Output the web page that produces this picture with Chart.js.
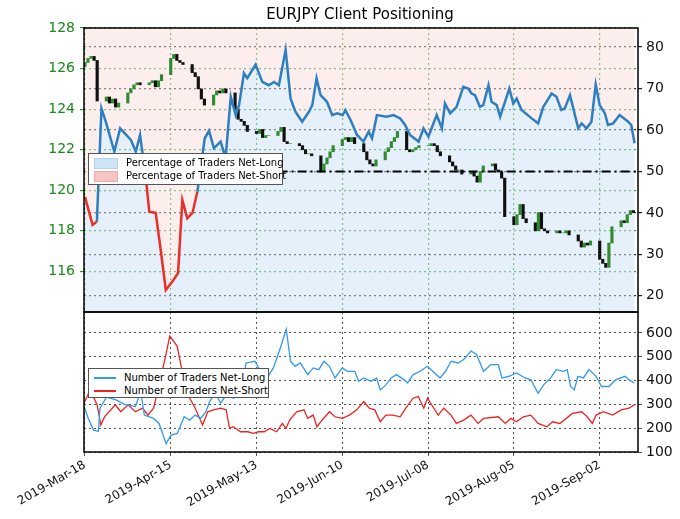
<!DOCTYPE html>
<html><head><meta charset="utf-8">
<script src="https://cdn.jsdelivr.net/npm/chart.js@4"></script>
<style>
body{margin:0;background:#fff;font-family:"DejaVu Sans",sans-serif}
#wrap{position:relative;width:680px;height:519px}
canvas{position:absolute;left:0;top:0}
.title{position:absolute;width:680px;top:5px;text-align:center;font-size:15px;color:#000;left:20px}
.leg{position:absolute;background:#fff;border:1px solid #555;font-size:10px;color:#000;padding:2px 5px;box-sizing:border-box}
.leg div{height:13px;line-height:13px;white-space:nowrap}
.leg span{display:inline-block;vertical-align:middle;margin-right:8px}
</style></head><body>
<div id="wrap">
<canvas id="c1" width="680" height="519"></canvas>
<canvas id="c2" width="680" height="519"></canvas>
<div class="title">EURJPY Client Positioning</div>
<div class="leg" style="left:88px;top:153px;width:195px;height:32px">
<div><span style="width:22px;height:9px;background:#cfe3f7;border:1px solid #b5d2ef"></span>Percentage of Traders Net-Long</div>
<div><span style="width:22px;height:9px;background:#f7c5c5;border:1px solid #efaaaa"></span>Percentage of Traders Net-Short</div>
</div>
<div class="leg" style="left:88px;top:368px;width:181px;height:30px">
<div><span style="width:22px;height:1.5px;background:#3399ee"></span>Number of Traders Net-Long</div>
<div><span style="width:22px;height:1.5px;background:#ee2222"></span>Number of Traders Net-Short</div>
</div>
</div>
<script>
// day offsets from 2019-03-18
const tickDays=[0,28,56,84,112,140,168];
const tickLabels=['2019-Mar-18','2019-Apr-15','2019-May-13','2019-Jun-10','2019-Jul-08','2019-Aug-05','2019-Sep-02'];
// weekday closes (Mon-Fri, 26 weeks)
const closes=[
126.3,126.5,126.6,126.4,124.4, 124.6,124.3,124.5,124.1,124.3,
124.8,125.0,125.2,125.3,125.2, 125.3,125.4,125.1,125.4,125.7,
126.5,126.7,126.4,126.3,126.2, 125.8,125.6,125.0,124.5,124.2,
124.7,124.9,124.8,125.0,124.8, 124.0,123.5,123.4,123.2,122.9,
122.8,123.0,122.6,122.7,122.7, 122.9,123.1,122.4,122.3,122.3,
122.2,122.0,121.8,121.8,121.7, 120.9,121.3,121.6,121.9,122.2,
122.5,122.6,122.4,122.6,122.3, 121.9,121.5,121.3,121.2,121.5,
121.9,122.1,122.4,122.6,122.9, 122.0,121.9,122.0,122.1,122.2,
122.2,122.3,122.2,121.9,121.7, 121.4,121.2,121.0,121.0,120.8,
120.9,120.7,120.4,120.9,121.2, 121.3,121.0,120.9,120.6,118.7,
118.3,118.8,119.3,118.6,118.4, 118.0,118.9,118.1,118.0,117.9,
118.0,117.9,117.9,118.0,117.8, 117.5,117.2,117.4,117.3,117.5,
116.6,116.4,116.2,117.4,118.2, 118.5,118.4,118.8,119.0,118.9];
const firstOpen=126.1;
const pctDays=[0,2.5,3.9,5.4,6.8,9.6,11.5,15,16.6,18,19.9,21,23.1,24.8,26.4,28.6,30.4,31.8,33.4,35.1,36.7,39.1,40.5,42.1,44.3,45.9,47.6,49.2,50.3,51.9,53,55.7,57.9,60,61.7,63.3,65.5,67.1,68.7,70.9,73.1,74.2,75.6,76.9,79,80.7,82.3,84.1,85,86.7,88.8,90.9,92.6,93.7,95.3,98.5,100.7,102.9,104.5,106.1,108.9,110.5,112.1,114.8,116.5,117.5,119.2,121.3,123.5,125.1,126.2,127.3,128.9,130,131.7,132.7,134.4,135.5,138.5,139.8,140.9,142.5,145.8,147.9,149.6,152.3,153.9,155.5,156.6,158.3,161,162.1,163.7,165.3,166.7,168,169.7,170.7,172.4,174.5,177.3,178.3,179.4];
const pctLong=[43.9,37.1,37.9,65.2,62,54.8,60.4,57.6,54.8,58.8,48.4,40.3,40,30.7,21.4,23.5,25.5,43.1,38.7,40,45.1,58,59.8,55.6,57.2,53.2,68,63.6,66,73.7,72.5,75.8,71.6,70.8,71.6,70.8,79.3,67.6,64.4,62,64.4,66,72.5,68.4,66.8,63.6,64,63.6,64.8,62.4,58.8,57.2,59.6,58,63.6,63.2,63.6,62.8,61.2,58.8,57.2,60.4,58.4,63.6,60.4,66.4,64,65.6,70.4,70,68.8,68.4,65.6,66,70.8,66.8,66,63.2,70,66.4,67.6,64.8,62.8,61.6,65.6,68.8,68,64.8,65.2,68.4,60.4,61.6,60.4,62,71,66,64,61.2,61.6,63.6,62,61.2,56.8];
const longDays=[0,1.1,2.8,4.4,4.9,7,10,12.9,16.5,18.2,19.4,22.4,24.2,26.5,28.1,30.1,32.4,34.2,36,37.8,39.5,40.7,42.5,44.3,46.1,48.4,50.8,52.6,55.5,57.9,59.1,61.5,63.8,65.7,67.1,68.6,70.3,72.7,74.5,76.3,78,79.8,81.6,84,85.7,88.1,89.3,91,93.4,95.2,96.4,98.2,99.9,101.7,104.1,105.3,107.1,109.4,111.8,113.5,115.9,117.7,119.5,121.8,123.6,126,127.8,130.1,132.5,134.9,136.1,138.4,140.8,143.7,145.5,147.9,149.7,152,153.8,156.2,157.4,158.5,159.7,160.9,162.7,164.5,166.8,168.6,171,173.3,176.3,177.5,179.3];
const longCount=[283,241,192,187,283,330,320,300,291,354,255,241,220,135,171,178,248,234,255,241,269,312,347,305,340,326,333,474,481,425,404,453,538,616,481,460,474,425,453,446,481,460,411,453,439,439,397,411,397,411,361,382,411,425,404,390,425,439,460,439,411,439,481,474,488,524,510,439,467,467,411,418,432,411,404,347,382,411,446,439,446,375,361,418,411,446,418,375,375,404,418,404,390];
const shortDays=[0,1.7,4,5.2,6.4,9.9,11.7,14.1,16.5,18.8,20.6,22.4,24.2,26.2,27.7,30.1,31.3,33.6,36,38.4,40.1,41.9,44.3,46.1,47.2,48.4,50.8,53.2,54.9,56.7,58.5,60.3,62.6,64.4,65.6,66.8,69.1,71.5,72.7,74.5,75.7,77.4,79.8,81.6,84,86.3,88.7,91,92.8,94.6,96.4,98.2,100.5,102.9,104.7,107.1,108.8,110.6,111.8,113.5,115.3,117.1,119.5,121.2,123.6,126,128.3,130.1,134.9,137.2,139,140.8,143.1,145.5,147.9,150.8,152.6,155,159.1,162.1,163.9,165.6,166.8,169.2,172.2,175.1,177.5,179.3];
const shortCount=[312,361,298,213,248,298,269,298,269,284,255,284,382,495,587,545,467,340,284,213,269,277,284,277,199,206,185,185,178,185,185,199,185,220,199,234,269,277,241,255,206,234,269,248,241,255,277,312,284,277,227,255,255,248,284,326,333,284,326,291,255,284,255,220,234,255,220,241,248,220,241,227,248,255,220,206,227,220,262,269,248,220,255,269,255,277,284,298];

const X0=-0.3,X1=180.5;
const FONT='"DejaVu Sans", sans-serif';
const pts=(xs,ys)=>xs.map((x,i)=>({x:x,y:ys[i]}));
const candles=[],cColors=[];
closes.forEach((c,i)=>{const o=i?closes[i-1]:firstOpen;const d=Math.floor(i/5)*7+i%5;
 candles.push({x:d,y:[o,c]});cColors.push(c>=o?'#2e8b2e':'#111');});
const frame={id:'frame',afterDraw(ch){const a=ch.chartArea,g=ch.ctx;g.save();g.strokeStyle='#000';g.lineWidth=1.5;g.strokeRect(a.left,a.top,a.right-a.left,a.bottom-a.top);g.restore();}};
const setTicks=v=>s=>{s.ticks=v.map(x=>({value:x}));};

new Chart(document.getElementById('c1'),{
 data:{datasets:[
  {type:'line',data:pts(pctDays,pctLong),yAxisID:'p',fill:'start',backgroundColor:'rgba(205,226,245,0.5)',borderWidth:0,pointRadius:0,order:5},
  {type:'line',data:pts(pctDays,pctLong),yAxisID:'p',fill:'end',backgroundColor:'rgba(252,222,222,0.5)',borderWidth:0,pointRadius:0,order:5},
  {type:'bar',data:candles,yAxisID:'pr',backgroundColor:cColors,barThickness:2.5,order:3},
  {type:'line',data:[{x:-5,y:50},{x:190,y:50}],yAxisID:'p',borderColor:'#000',borderWidth:2,borderDash:[9,4,2,4],pointRadius:0,order:2},
  {type:'line',data:pts(pctDays,pctLong),yAxisID:'p',borderWidth:2.5,pointRadius:0,order:1,borderColor:'#2f7fc0',
   segment:{borderColor:c=>((c.p0.parsed.y+c.p1.parsed.y)/2<50?'#e8302a':'#2f7fc0')}}
 ]},
 options:{responsive:false,animation:false,events:[],
  layout:{padding:{top:28,bottom:207,left:0,right:0}},
  plugins:{legend:{display:false},tooltip:{enabled:false}},
  scales:{
   x:{type:'linear',offset:false,min:X0,max:X1,afterBuildTicks:setTicks(tickDays),afterFit:s=>{s.height=0},
      ticks:{display:false},grid:{offset:false,color:'#2a9a2a',lineWidth:1.2,drawTicks:false},border:{display:false,dash:[2,3]}},
   pr:{position:'left',min:114,max:128,afterBuildTicks:setTicks([116,118,120,122,124,126,128]),afterFit:s=>{s.width=84},
      ticks:{color:'#1a8a1a',font:{family:FONT,size:14},padding:5},grid:{color:'#2a9a2a',lineWidth:1.2,drawTicks:true,tickLength:4},border:{display:false,dash:[2,3]}},
   p:{position:'right',min:16.1,max:84.6,afterBuildTicks:setTicks([20,30,40,50,60,70,80]),afterFit:s=>{s.width=42},
      ticks:{color:'#111',font:{family:FONT,size:14},padding:4},grid:{color:'#222',lineWidth:1.2,tickLength:4},border:{display:false,dash:[2,3]}}
  }},
 plugins:[frame]
});

new Chart(document.getElementById('c2'),{
 type:'line',
 data:{datasets:[
  {data:pts(longDays,longCount),borderColor:'#3399ee',borderWidth:1.3,pointRadius:0},
  {data:pts(shortDays,shortCount),borderColor:'#ee2222',borderWidth:1.3,pointRadius:0}
 ]},
 options:{responsive:false,animation:false,events:[],
  layout:{padding:{top:312,left:84,right:0,bottom:0}},
  plugins:{legend:{display:false},tooltip:{enabled:false}},
  scales:{
   x:{type:'linear',min:X0,max:X1,afterBuildTicks:setTicks(tickDays),afterFit:s=>{s.height=67},
      ticks:{callback:(v)=>tickLabels[tickDays.indexOf(v)]||'',minRotation:30,maxRotation:30,color:'#111',font:{family:FONT,size:12},padding:2},
      grid:{color:'#555',lineWidth:1,tickLength:4},border:{display:false,dash:[2,3]}},
   y:{position:'right',min:100,max:688,afterBuildTicks:setTicks([100,200,300,400,500,600]),afterFit:s=>{s.width=42},
      ticks:{color:'#111',font:{family:FONT,size:14},padding:4},grid:{color:'#555',lineWidth:1,tickLength:4},border:{display:false,dash:[2,3]}}
  }},
 plugins:[frame]
});
</script></body></html>
